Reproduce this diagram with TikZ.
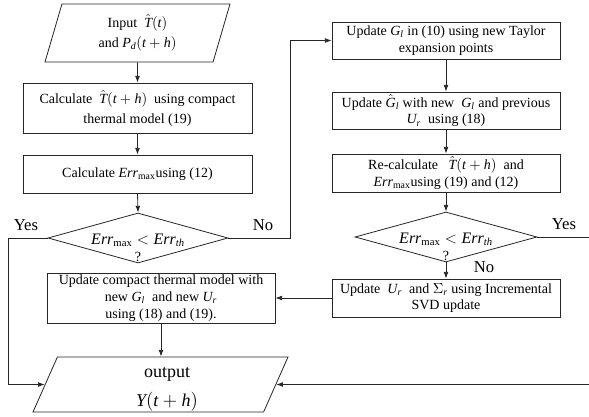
\documentclass[tikz,border=0pt]{standalone}
\usepackage{fontspec}
\setmainfont{Liberation Serif}
\usetikzlibrary{shapes.geometric,arrows.meta}
\newcommand{\mi}[1]{\mathit{#1}}
\begin{document}
\begin{tikzpicture}[x=0.75pt,y=-0.75pt,
  box/.style={draw=black!85, line width=0.6pt, rectangle, inner sep=1pt, align=center,
    font=\fontsize{10.5}{12.5}\selectfont},
  io/.style={draw=black!85, line width=0.6pt, trapezium, trapezium left angle=#1, trapezium right angle=180-#1,
    trapezium stretches body=true, inner sep=1pt, align=center},
  dec/.style={draw=black!85, line width=0.6pt, diamond, inner sep=0pt},
  dectext/.style={align=center, inner sep=0pt, font=\fontsize{12}{13}\selectfont},
  conn/.style={draw=black!85, line width=0.6pt},
  arr/.style={conn, -{Latex[length=5pt,width=3.6pt]}},
  lbl/.style={font=\fontsize{12.5}{14}\selectfont, inner sep=0pt}
]
\useasboundingbox (0,0) rectangle (589,417);
\fill[white] (0,0) rectangle (589,417);

% left column
\node[io=66.7, minimum width=138.75pt, minimum height=43.5pt, font=\fontsize{10.5}{15}\selectfont] (in) at (137.5,33)
  {Input\ \ $\hat{\mi{T}}(\mi{t})$\\ and $\mi{P}_{\mi{d}}(\mi{t}+\mi{h})$};
\node[box, minimum width=171.75pt, minimum height=37.5pt, font=\fontsize{10.5}{15}\selectfont] (c1) at (137.5,108)
  {Calculate\ \ $\hat{\mi{T}}(\mi{t}+\mi{h})$\ \ using compact\\ thermal model (19)};
\node[box, minimum width=171.75pt, minimum height=28.5pt] (c2) at (137.5,174)
  {Calculate $\mi{Err}_{\max}$using (12)};
\node[dec, minimum width=135pt, minimum height=37.5pt] (d1) at (138,238) {};
\node[dectext] (d1t) at (138,248)
  {$\mi{Err}_{\max} < \mi{Err}_{\mi{th}}$\\[0pt]{\fontsize{10.5}{12}\selectfont ?}};

% right column
\node[box, minimum width=171pt, minimum height=27.75pt] (u1) at (446,40.5)
  {Update $\mi{G}_{\mi{l}}$ in (10) using new Taylor\\ expansion points};
\node[box, minimum width=171pt, minimum height=27.75pt] (u2) at (446,110.5)
  {Update $\hat{\mi{G}}_{\mi{l}}$ with new\ \ $\mi{G}_{\mi{l}}$ and previous\\ $\mi{U}_{\mi{r}}$\ \ using (18)};
\node[box, minimum width=171pt, minimum height=28.5pt] (r1) at (446,173)
  {Re-calculate\ \ \ $\hat{\mi{T}}(\mi{t}+\mi{h})$\ \ and\\ $\mi{Err}_{\max}$using (19) and (12)};
\node[dec, minimum width=136.5pt, minimum height=37.5pt] (d2) at (446,237) {};
\node[dectext] (d2t) at (446,247)
  {$\mi{Err}_{\max} < \mi{Err}_{\mi{th}}$\\[0pt]{\fontsize{10.5}{12}\selectfont ?}};
\node[box, minimum width=171pt, minimum height=28.5pt] (u3) at (446,298)
  {Update\ \ $\mi{U}_{\mi{r}}$\ \ and $\Sigma_{\mi{r}}$ using Incremental\\ SVD update};

% lower left
\node[box, minimum width=171pt, minimum height=37.5pt] (u4) at (161,298)
  {Update compact thermal model with\\ new $\mi{G}_{\mi{l}}$\ \ and new $\mi{U}_{\mi{r}}$\\ using (18) and (19).};
\node[io=62.2, minimum width=191.25pt, minimum height=41.25pt, font=\fontsize{13.5}{21.5}\selectfont] (out) at (160.5,384.5)
  {\phantom{output}\\ \phantom{$\mi{Y}(\mi{t}+\mi{h})$}};
\node[align=center, inner sep=0pt, font=\fontsize{13.5}{21.5}\selectfont] (outt) at (167,389)
  {output\\ $\mi{Y}(\mi{t}+\mi{h})$};

% labels
\node[lbl] (yes1) at (26,225) {Yes};
\node[lbl] (no1) at (263,225) {No};
\node[lbl] (yes2) at (564,224) {Yes};
\node[lbl] (no2) at (484,267) {No};

% coordinates
\coordinate (lc) at (8,238);
\coordinate (nc) at (290,238);
\coordinate (rE) at (589,237);
\coordinate (rB) at (589,384.5);

% connectors
\draw[arr] (in.south) -- (c1.north);
\draw[arr] (c1.south) -- (c2.north);
\draw[arr] (c2.south) -- (d1.north);
\draw[arr] (d1.west) -- (lc) |- (out.west);
\draw[arr] (d1.east) -- (nc) |- (u1.west);
\draw[arr] (u1.south) -- (u2.north);
\draw[arr] (u2.south) -- (r1.north);
\draw[arr] (r1.south) -- (d2.north);
\draw[conn] (d2.east) -- (rE);
\draw[arr] (d2.south) -- (u3.north);
\draw[arr] (u3.west) -- (u4.east);
\draw[arr] (u4.south) -- (u4.south |- out.north);
\draw[arr] (rB) -- (out.east);
\end{tikzpicture}
\end{document}
